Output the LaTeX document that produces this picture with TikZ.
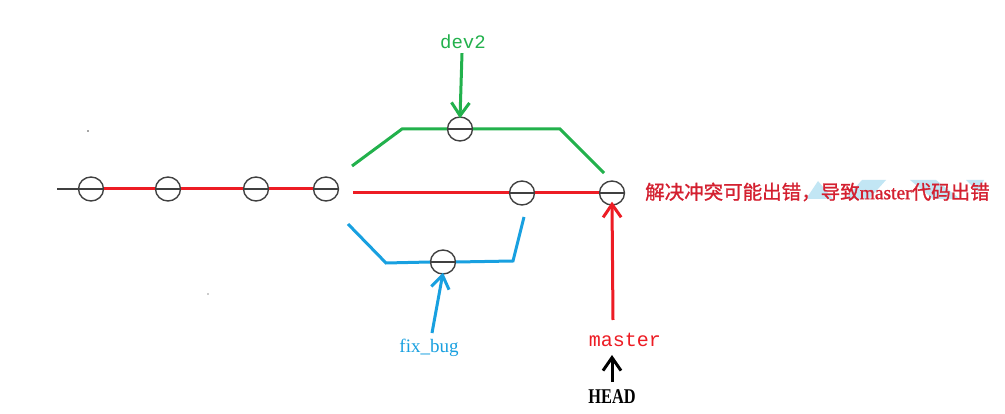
\documentclass[tikz,border=0pt]{standalone}
\usepackage{fontspec}
\setmainfont{Liberation Serif}
\newfontfamily\monofnt{Liberation Mono}
\newfontfamily\cjkfnt[FakeBold=1.2]{Noto Sans CJK SC}
\newfontfamily\latfnt[FakeBold=1.2]{Liberation Serif}
\usetikzlibrary{arrows.meta,shapes.geometric}
\definecolor{pred}{HTML}{ED1C24}
\definecolor{pgreen}{HTML}{22B14C}
\definecolor{pblue}{HTML}{18A0E0}
\definecolor{tred}{HTML}{D42030}
\definecolor{wblue}{HTML}{C2E6F4}
\begin{document}
\begin{tikzpicture}[x=1pt,y=-1pt,
  commit/.style={draw=black!75,line width=1.4pt,ellipse,minimum width=25pt,minimum height=24pt,inner sep=0pt},
  redline/.style={pred,line width=3pt},
  greenline/.style={pgreen,line width=3pt},
  blueline/.style={pblue,line width=3pt},
  diam/.style={black!75,line width=1.4pt},
  lbl/.style={inner sep=0pt,anchor=center},
  barb/.style={-{Straight Barb[length=13pt,width=18pt,line width=3pt]}}
]
\useasboundingbox (0,0) rectangle (1005,414);
\fill[white] (0,0) rectangle (1005,414);
% faint watermark shapes
\fill[wblue] (806,199) -- (818,181) -- (833,199) -- cycle;
\fill[wblue] (862,180) -- (886,180) -- (869,199) -- (845,199) -- cycle;
\fill[wblue] (910,180) -- (936,180) -- (960,199) -- (933,199) -- cycle;
\fill[wblue] (966,180) -- (984,180) -- (978,192) -- cycle;
% tiny dots
\fill[black!70] (88,131) circle (0.8);
\fill[black!40] (208,294) circle (0.8);
% commits
\node[commit] (c1) at (91,189) {};
\node[commit] (c2) at (168,189) {};
\node[commit] (c3) at (256,189) {};
\node[commit] (c4) at (326,189) {};
\node[commit] (c5) at (522,193) {};
\node[commit] (c6) at (612,193) {};
\node[commit] (g) at (460,129) {};
\node[commit] (b) at (443,262) {};
\coordinate (start) at (57,189);
\draw[diam] (start) -- (c1.east);
\foreach \n in {c2,c3,c4,c5,c6,g,b} \draw[diam] (\n.west) -- (\n.east);
\draw[redline] (c1.east) -- (c2.west);
\draw[redline] (c2.east) -- (c3.west);
\draw[redline] (c3.east) -- (c4.west);
\coordinate (r0) at (353,193);
\draw[redline] (r0) -- (c5.west);
\draw[redline] (c5.east) -- (c6.west);
% green branch
\coordinate (g0) at (352,166);
\coordinate (g1) at (402,129);
\coordinate (g2) at (560,129);
\coordinate (g3) at (604,173);
\draw[greenline] (g0) -- (g1) -- (g.west);
\draw[greenline] (g.east) -- (g2) -- (g3);
% blue branch
\coordinate (b0) at (348,224);
\coordinate (b1) at (386,263);
\coordinate (b2) at (513,261);
\coordinate (b3) at (524,217);
\draw[blueline] (b0) -- (b1) -- (b.west);
\draw[blueline] (b.east) -- (b2) -- (b3);
% labels
\node[lbl,text=pgreen,font=\monofnt\fontsize{19}{20}\selectfont] (dev) at (463,42) {dev2};
\node[lbl,text=pblue,font=\fontsize{19}{20}\selectfont] (fix) at (429,348) {fix\_bug};
\node[lbl,text=pred,font=\monofnt\fontsize{20}{21}\selectfont] (mas) at (625,340) {master};
\node[lbl,text=black,font=\bfseries\fontsize{21}{22}\selectfont,xscale=0.78] (head) at (612,397) {HEAD};
\node[lbl,anchor=west,text=tred,font=\cjkfnt\fontsize{19.5}{21}\selectfont] (msg) at (645,192) {解决冲突可能出错，导致{\latfnt master}代码出错};
% arrows
\draw[pgreen,line width=3pt,barb] (dev.south) ++(-1,4) -- ([yshift=-2pt]g.north);
\draw[pblue,line width=3pt,barb] (fix.north) ++(3,-6) -- ([yshift=2pt]b.south);
\draw[pred,line width=3pt,barb] (613,320) -- ([yshift=4pt]c6.south);
\draw[black,line width=3pt,barb] (612,382) -- (612,355);
\end{tikzpicture}
\end{document}
